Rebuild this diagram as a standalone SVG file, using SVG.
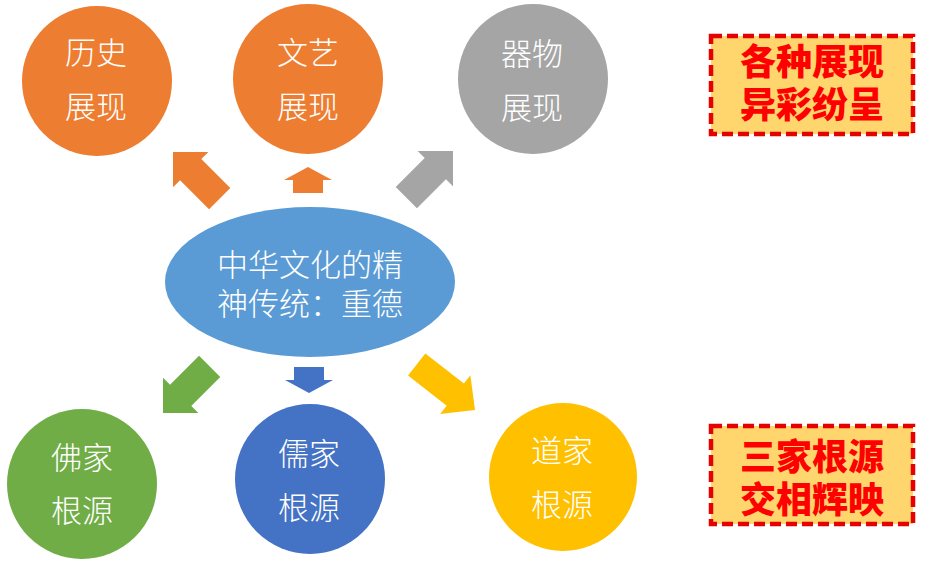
<svg xmlns="http://www.w3.org/2000/svg" width="926" height="564" viewBox="0 0 926 564">
<defs>
<style>
.ct{font-family:"Noto Sans CJK SC","Liberation Sans",sans-serif;font-size:31px;font-weight:300;fill:#ffffff;text-anchor:middle;dominant-baseline:central}
.bt{font-family:"Noto Sans CJK SC","Liberation Sans",sans-serif;font-size:36px;font-weight:900;fill:#ff0000;text-anchor:middle;dominant-baseline:central}
.box{fill:#ffd56e;stroke:#e60000;stroke-width:4.5;stroke-dasharray:11 5}
</style>
<path id="diag" d="M0,0 L-25,-25 L-25,-15 L-66,-15 L-66,15 L-25,15 L-25,25 Z"/>
<path id="short" d="M0,0 L-13,-24 L-13,-15 L-26,-15 L-26,15 L-13,15 L-13,24 Z"/>
<path id="long" d="M0,0 L-25,-24.5 L-25,-14 L-74,-14 L-74,14 L-25,14 L-25,24.5 Z"/>
</defs>
<rect width="926" height="564" fill="#ffffff"/>
<g id="connectors">
<use href="#diag" fill="#ed7d31" transform="translate(173,152) rotate(-135)"/>
<use href="#short" fill="#ed7d31" transform="translate(308,167) rotate(-90)"/>
<use href="#diag" fill="#a5a5a5" transform="translate(453,151) rotate(-45)"/>
<use href="#diag" fill="#70ad47" transform="translate(163,413) rotate(135)"/>
<use href="#short" fill="#4472c4" transform="translate(309,393) rotate(90)"/>
<use href="#long" fill="#ffc000" transform="translate(475,410) rotate(38)"/>
</g>
<g id="center">
<ellipse cx="310" cy="282" rx="145" ry="75" fill="#5b9bd5"/>
<text class="ct"><tspan x="310" y="262">中华文化的精</tspan><tspan x="310" y="301">神传统：重德</tspan></text>
</g>
<g id="history">
<circle cx="97" cy="81" r="75" fill="#ed7d31"/>
<text class="ct"><tspan x="96" y="50">历史</tspan><tspan x="96" y="104">展现</tspan></text>
</g>
<g id="arts">
<circle cx="308" cy="79" r="75" fill="#ed7d31"/>
<text class="ct"><tspan x="308" y="50">文艺</tspan><tspan x="308" y="104">展现</tspan></text>
</g>
<g id="objects">
<circle cx="533" cy="79" r="75" fill="#a5a5a5"/>
<text class="ct"><tspan x="532" y="51">器物</tspan><tspan x="532" y="105">展现</tspan></text>
</g>
<g id="buddhism">
<circle cx="82" cy="484" r="75" fill="#70ad47"/>
<text class="ct"><tspan x="82" y="455">佛家</tspan><tspan x="82" y="508">根源</tspan></text>
</g>
<g id="confucianism">
<circle cx="310" cy="479" r="75" fill="#4472c4"/>
<text class="ct"><tspan x="309" y="451">儒家</tspan><tspan x="309" y="505">根源</tspan></text>
</g>
<g id="taoism">
<circle cx="563" cy="477" r="74" fill="#ffc000"/>
<text class="ct"><tspan x="562" y="448">道家</tspan><tspan x="562" y="502">根源</tspan></text>
</g>
<g id="note-top">
<rect class="box" x="711" y="36" width="202" height="98"/>
<text class="bt"><tspan x="812" y="59">各种展现</tspan><tspan x="812" y="102">异彩纷呈</tspan></text>
</g>
<g id="note-bottom">
<rect class="box" x="711" y="426" width="202" height="98"/>
<text class="bt"><tspan x="812" y="454">三家根源</tspan><tspan x="812" y="497">交相辉映</tspan></text>
</g>
</svg>
